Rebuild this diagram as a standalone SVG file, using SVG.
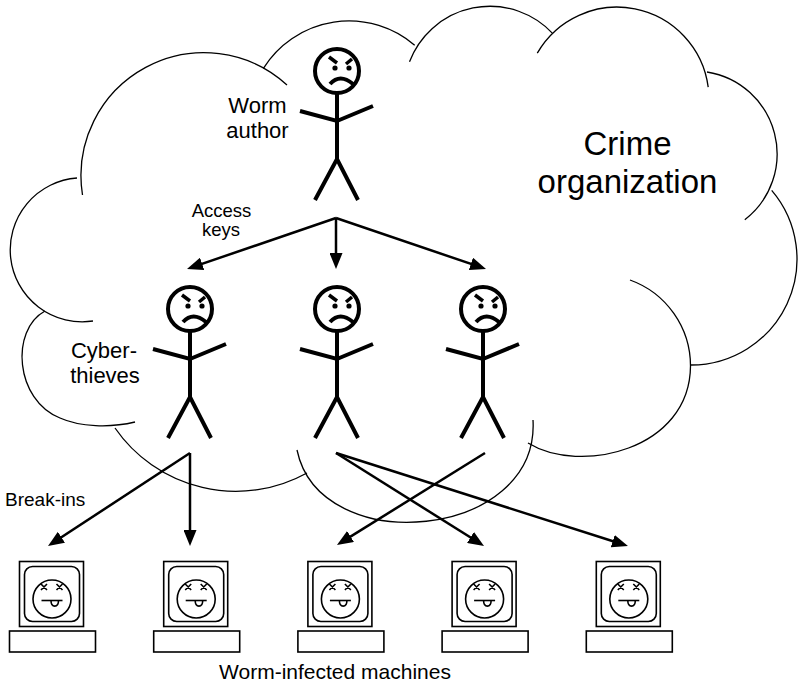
<svg xmlns="http://www.w3.org/2000/svg" xmlns:xlink="http://www.w3.org/1999/xlink" width="799" height="691" viewBox="0 0 799 691">
  <style>
    .cloud { fill: none; stroke: #000; stroke-width: 1.3; }
    .link { fill: none; stroke: #000; stroke-width: 2.5; marker-end: url(#arrow); }
    .lbl { font-family: "Liberation Sans", Arial, Helvetica, sans-serif; fill: #000; }
  </style>
  <defs>
    <marker id="arrow" viewBox="0 0 16 13" refX="11" refY="6.5" markerWidth="16" markerHeight="13" markerUnits="userSpaceOnUse" orient="auto">
      <path d="M0,0 L16,6.5 L0,13 Z" fill="#000"/>
    </marker>
    <!-- angry stick figure, origin at the centre of the head -->
    <g id="stickman" fill="none" stroke="#000">
      <circle cx="0" cy="0" r="22" stroke-width="4"/>
      <path d="M-8,-14 L0,-8 M15,-12 L9,-7" stroke-width="3.5"/>
      <circle cx="-2" cy="-3" r="2.6" fill="#000" stroke="none"/>
      <circle cx="12" cy="-3" r="2.6" fill="#000" stroke="none"/>
      <path d="M-7,13 Q3,2 16,13" stroke-width="4"/>
      <path d="M0,22 V88 M-37,40 L0,50 L36,35 M-22,129 L0,88 L21,129" stroke-width="4"/>
    </g>
    <!-- infected computer, origin at the top-left of the monitor -->
    <g id="pc" fill="none" stroke="#000" stroke-width="1.6">
      <rect x="0" y="0" width="64" height="65"/>
      <rect x="5" y="5" width="55" height="55" rx="8"/>
      <circle cx="32.5" cy="37.5" r="19"/>
      <path d="M21.5,22.5 L27.5,28.5 M27.5,22.5 L21.5,28.5 M37,22.5 L43,28.5 M43,22.5 L37,28.5" stroke-width="1.6"/>
      <path d="M22,39 H43" stroke-width="1.6"/>
      <path d="M31.5,39 C31.5,46.5 39,46.5 39,39" stroke-width="1.6"/>
      <rect x="-10" y="69.5" width="86" height="21"/>
    </g>
  </defs>

  <!-- organization cloud -->
  <g id="cloud">
    <path class="cloud" d="M93,321 A72,72 0 1 1 77,178"/>
    <path class="cloud" d="M82.5,195 A123,123 0 0 1 287,85"/>
    <path class="cloud" d="M263.4,68.3 A101,101 0 0 1 414.7,45.3"/>
    <path class="cloud" d="M409.5,61.8 A86,86 0 0 1 552.3,33.1"/>
    <path class="cloud" d="M537.3,53.1 A92,92 0 0 1 708.2,87.1"/>
    <path class="cloud" d="M707,72 A83,83 0 0 1 744.8,219.7"/>
    <path class="cloud" d="M771.7,190.3 A106,106 0 0 1 690,365"/>
    <path class="cloud" d="M630,280 A91.5,91.5 0 0 1 690.5,366 C690,450 580,475 528,443"/>
    <path class="cloud" d="M533,420 C540,540 320,560 297,450"/>
    <path class="cloud" d="M307,473 A147,147 0 0 1 115,428"/>
    <path class="cloud" d="M135,422 C110,428 80,427 60,418 C15,400 10,330 45,311"/>
    <text class="lbl" x="627.5" y="155" font-size="33" text-anchor="middle">Crime</text>
    <text class="lbl" x="627.5" y="193" font-size="33" text-anchor="middle">organization</text>
  </g>

  <!-- people -->
  <g id="worm-author">
    <use xlink:href="#stickman" x="337" y="71"/>
    <text class="lbl" x="257.5" y="113" font-size="22" text-anchor="middle">Worm</text>
    <text class="lbl" x="257.5" y="138" font-size="22" text-anchor="middle">author</text>
  </g>
  <g id="thief-1">
    <use xlink:href="#stickman" x="190" y="309"/>
    <text class="lbl" x="104" y="358" font-size="22" text-anchor="middle">Cyber-</text>
    <text class="lbl" x="105" y="383" font-size="22" text-anchor="middle">thieves</text>
  </g>
  <g id="thief-2">
    <use xlink:href="#stickman" x="337" y="309"/>
  </g>
  <g id="thief-3">
    <use xlink:href="#stickman" x="483" y="309"/>
  </g>

  <!-- machines -->
  <g id="pc-1"><use xlink:href="#pc" x="19.5" y="561.5"/></g>
  <g id="pc-2"><use xlink:href="#pc" x="163.7" y="561.5"/></g>
  <g id="pc-3"><use xlink:href="#pc" x="307.9" y="561.5"/></g>
  <g id="pc-4"><use xlink:href="#pc" x="452.1" y="561.5"/></g>
  <g id="pc-5"><use xlink:href="#pc" x="596.3" y="561.5"/></g>
  <text class="lbl" x="335" y="679" font-size="21" text-anchor="middle">Worm-infected machines</text>

  <!-- connectors -->
  <g id="connectors">
    <path class="link" d="M336,218 L191.7,267.4"/>
    <path class="link" d="M336,218 L336,264"/>
    <path class="link" d="M336,218 L481.3,267.4"/>
    <text class="lbl" x="221.5" y="217" font-size="18.5" text-anchor="middle">Access</text>
    <text class="lbl" x="221" y="236" font-size="18.5" text-anchor="middle">keys</text>

    <path class="link" d="M190,453 L52.2,543.3"/>
    <path class="link" d="M190,453 L190,541"/>
    <path class="link" d="M485,453 L341.2,542.4"/>
    <path class="link" d="M336,453 L479.8,543.3"/>
    <path class="link" d="M336,453 L623.2,544.5"/>
    <text class="lbl" x="5" y="506" font-size="19">Break-ins</text>
  </g>
</svg>
